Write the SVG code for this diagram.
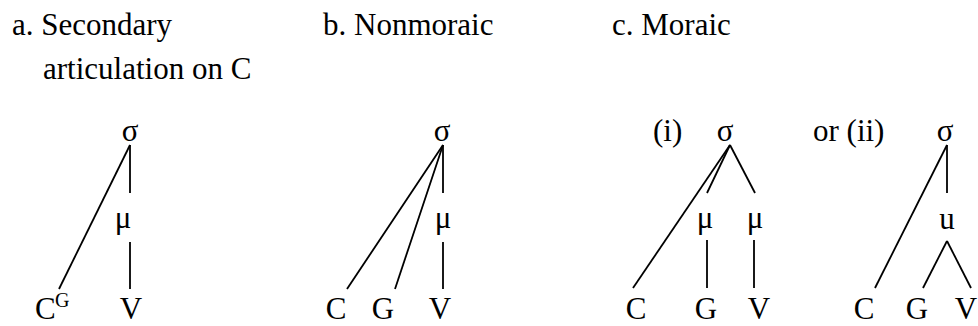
<svg xmlns="http://www.w3.org/2000/svg" width="978" height="326" viewBox="0 0 978 326">
<style>
text{font-family:"Liberation Serif","Times New Roman",serif;font-size:31px;fill:#000}
.m{text-anchor:middle}
.sup{font-size:20px}
.e line{stroke:#000;stroke-width:1.8;stroke-linecap:butt}
</style>
<rect width="978" height="326" fill="#fff"/>
<g id="titles">
<text x="12" y="35">a. Secondary</text>
<text x="43" y="79">articulation on C</text>
<text x="323" y="35">b. Nonmoraic</text>
<text x="612" y="35">c. Moraic</text>
</g>
<g class="e" id="connectors">
<line x1="130" y1="145" x2="130" y2="193"/>
<line x1="130" y1="242" x2="130" y2="289"/>
<line x1="130" y1="145" x2="59" y2="289"/>
<line x1="443" y1="145" x2="443" y2="193"/>
<line x1="443" y1="242" x2="443" y2="289"/>
<line x1="443" y1="145" x2="347" y2="289"/>
<line x1="443" y1="145" x2="395" y2="289"/>
<line x1="730" y1="145" x2="633" y2="288"/>
<line x1="730" y1="145" x2="707" y2="193"/>
<line x1="730" y1="145" x2="755" y2="193"/>
<line x1="707" y1="240" x2="707" y2="288"/>
<line x1="754" y1="240" x2="754" y2="288"/>
<line x1="947" y1="145" x2="947" y2="193"/>
<line x1="947" y1="145" x2="875" y2="288"/>
<line x1="947" y1="241" x2="923" y2="288"/>
<line x1="947" y1="241" x2="971" y2="288"/>
</g>
<g id="a-sigma"><text class="m" x="130" y="141">σ</text></g>
<g id="a-mu"><text class="m" x="123" y="228">μ</text></g>
<g id="a-CG"><text x="35" y="319">C</text><text class="sup" x="55" y="307">G</text></g>
<g id="a-V"><text class="m" x="131" y="319">V</text></g>
<g id="b-sigma"><text class="m" x="442" y="141">σ</text></g>
<g id="b-mu"><text class="m" x="443" y="228">μ</text></g>
<g id="b-C"><text class="m" x="336" y="319">C</text></g>
<g id="b-G"><text class="m" x="383" y="319">G</text></g>
<g id="b-V"><text class="m" x="440" y="319">V</text></g>
<g id="ci-label"><text x="653" y="141">(i)</text></g>
<g id="ci-sigma"><text class="m" x="725" y="141">σ</text></g>
<g id="ci-mu1"><text class="m" x="705" y="228">μ</text></g>
<g id="ci-mu2"><text class="m" x="755" y="228">μ</text></g>
<g id="ci-C"><text class="m" x="636" y="319">C</text></g>
<g id="ci-G"><text class="m" x="706" y="319">G</text></g>
<g id="ci-V"><text class="m" x="759" y="319">V</text></g>
<g id="cii-label"><text x="813" y="141">or (ii)</text></g>
<g id="cii-sigma"><text class="m" x="945" y="141">σ</text></g>
<g id="cii-u"><text class="m" x="947" y="229">u</text></g>
<g id="cii-C"><text class="m" x="864" y="319">C</text></g>
<g id="cii-G"><text class="m" x="917" y="319">G</text></g>
<g id="cii-V"><text class="m" x="966" y="319">V</text></g>
</svg>
